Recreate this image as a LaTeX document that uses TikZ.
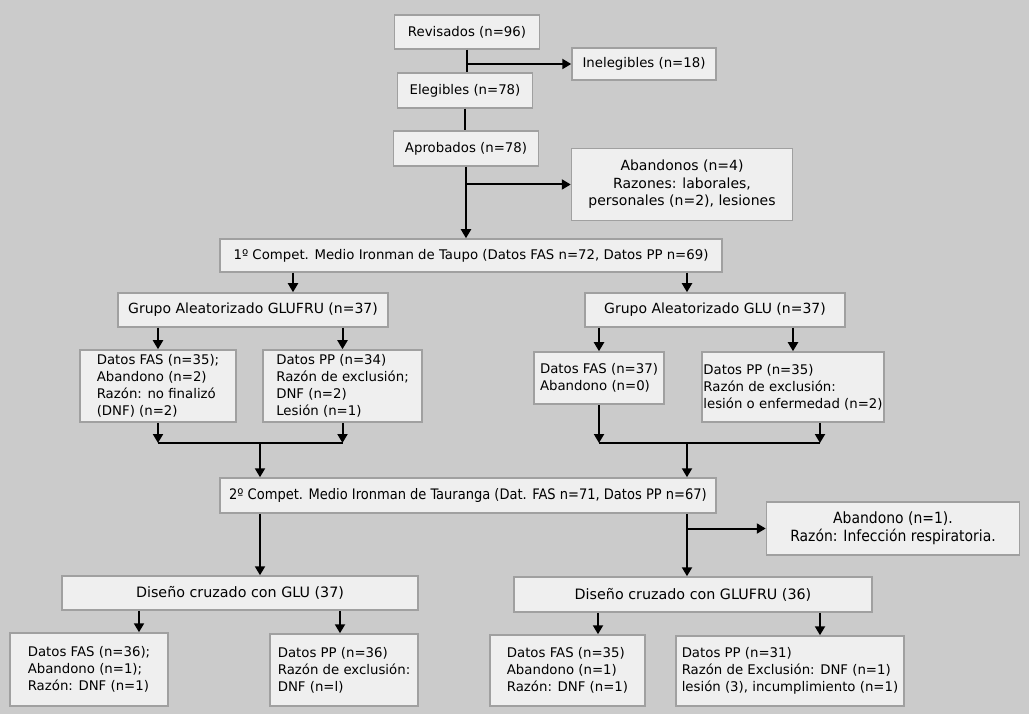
\documentclass[tikz,border=0pt]{standalone}
\usepackage{fontspec}
\setmainfont{DejaVu Sans}
\newfontfamily\condfont{DejaVu Sans Condensed}
\usetikzlibrary{arrows.meta}
\definecolor{bg}{HTML}{CBCBCB}
\definecolor{boxfill}{HTML}{EFEFEF}
\definecolor{boxline}{HTML}{A0A0A0}
\tikzset{
  box/.style={draw=boxline, line width=1.5pt, fill=boxfill, inner sep=0pt,
    font=\fontsize{13.3}{17}\selectfont, align=left},
  bigbox/.style={box, font=\fontsize{14}{17.5}\selectfont},
  cbox/.style={box, align=center},
  condbox/.style={box, align=center, font=\condfont\fontsize{14.5}{18}\selectfont},
  link/.style={line width=2pt, black},
  arr/.style={link, -{Triangle[length=9pt,width=10pt]}},
}
\begin{document}
\begin{tikzpicture}[x=1pt,y=-1pt]
\fill[bg] (0,0) rectangle (1029,714);
\useasboundingbox (0,0) rectangle (1029,714);

% helper coordinates for connector positions
\coordinate (xa) at (293,0);
\coordinate (xb) at (687,0);
\coordinate (m1) at (260,443);
\coordinate (m2) at (687,443);
\coordinate (xc) at (820,0);
\coordinate (xd) at (139,0);
\coordinate (xe) at (340,0);
\coordinate (xf) at (598,0);

% nodes
\node[box, minimum width=145, minimum height=34] (rev) at (467,32) {Revisados (n=96)};
\node[box, minimum width=144, minimum height=32] (inel) at (644,64) {Inelegibles (n=18)};
\node[box, minimum width=135, minimum height=35] (eleg) at (465,90.5) {Elegibles (n=78)};
\node[box, minimum width=145, minimum height=35] (aprob) at (466,148.5) {Aprobados (n=78)};
\node[bigbox, align=center, minimum width=221, minimum height=72] (aband) at (682,184.5)
  {Abandonos (n=4)\\Razones: laborales,\\personales (n=2), lesiones};
\node[box, minimum width=502, minimum height=33] (p1) at (471,255.5)
  {1º Compet. Medio Ironman de Taupo (Datos FAS n=72, Datos PP n=69)};
\node[bigbox, minimum width=270, minimum height=34] (g1) at (253,310) {Grupo Aleatorizado GLUFRU (n=37)};
\node[bigbox, minimum width=260, minimum height=34] (g2) at (715,310) {Grupo Aleatorizado GLU (n=37)};
\node[box, minimum width=156, minimum height=72] (fas1) at (158,386)
  {Datos FAS (n=35);\\Abandono (n=2)\\Razón: no finalizó\\(DNF) (n=2)};
\node[box, minimum width=159, minimum height=72] (pp1) at (342.5,386)
  {Datos PP (n=34)\\Razón de exclusión;\\DNF (n=2)\\Lesión (n=1)};
\node[box, minimum width=130, minimum height=52] (fas2) at (599,378)
  {Datos FAS (n=37)\\Abandono (n=0)};
\node[box, minimum width=182, minimum height=70] (pp2) at (793,387)
  {Datos PP (n=35)\\Razón de exclusión:\\lesión o enfermedad (n=2)};
\node[condbox, minimum width=496, minimum height=35] (p2) at (468,495.5)
  {2º Compet. Medio Ironman de Tauranga (Dat. FAS n=71, Datos PP n=67)};
\node[condbox, font=\condfont\fontsize{15.5}{18}\selectfont, minimum width=253, minimum height=53] (ab2) at (893,528.5)
  {Abandono (n=1).\\Razón: Infección respiratoria.};
\node[bigbox, font=\fontsize{14.3}{17}\selectfont, minimum width=356, minimum height=34] (d1) at (240,593) {Diseño cruzado con GLU (37)};
\node[bigbox, font=\fontsize{14.3}{17}\selectfont, minimum width=358, minimum height=35] (d2) at (693,594.5) {Diseño cruzado con GLUFRU (36)};
\node[box, minimum width=158, minimum height=73] (fas3) at (89,669.5)
  {Datos FAS (n=36);\\Abandono (n=1);\\Razón: DNF (n=1)};
\node[box, minimum width=148, minimum height=72] (pp3) at (344,670)
  {Datos PP (n=36)\\Razón de exclusión:\\DNF (n=l)};
\node[box, minimum width=155, minimum height=71] (fas4) at (567.5,670.5)
  {Datos FAS (n=35)\\Abandono (n=1)\\Razón: DNF (n=1)};
\node[box, minimum width=228, minimum height=70] (pp4) at (790,671)
  {Datos PP (n=31)\\Razón de Exclusión: DNF (n=1)\\lesión (3), incumplimiento (n=1)};

% trunk
\draw[link] (rev.south) -- (rev.south |- eleg.north);
\draw[link] (eleg.south) -- (eleg.south |- aprob.north);
\draw[arr] (aprob.south) -- (aprob.south |- p1.north);
\draw[arr] (rev.south |- inel.west) -- (inel.west);
\draw[arr] (aprob.south |- aband.west) -- (aband.west);

% first race to groups
\draw[arr] (p1.south -| xa) -- (g1.north -| xa);
\draw[arr] (p1.south -| xb) -- (g2.north -| xb);

% groups to data boxes
\draw[arr] (g1.south -| fas1.north) -- (fas1.north);
\draw[arr] (g1.south -| pp1.north) -- (pp1.north);
\draw[arr] (g2.south -| fas2.north) -- (fas2.north);
\draw[arr] (g2.south -| pp2.north) -- (pp2.north);

% merges
\draw[arr] (fas1.south) -- (fas1.south |- m1);
\draw[arr] (pp1.south) -- (pp1.south |- m1);
\draw[link] (fas1.south |- m1) -- (pp1.south |- m1);
\draw[arr] (m1) -- (m1 |- p2.north);
\draw[arr] (fas2.south) -- (fas2.south |- m2);
\draw[arr] (pp2.south -| xc) -- (m2 -| xc);
\draw[link] (fas2.south |- m2) -- (m2 -| xc);
\draw[arr] (m2) -- (m2 |- p2.north);

% second race
\draw[arr] (p2.south -| m1) -- (d1.north -| m1);
\draw[arr] (p2.south -| m2) -- (d2.north -| m2);
\draw[arr] (ab2.west -| m2) -- (ab2.west);

% crossover designs
\draw[arr] (d1.south -| xd) -- (fas3.north -| xd);
\draw[arr] (d1.south -| xe) -- (pp3.north -| xe);
\draw[arr] (d2.south -| xf) -- (fas4.north -| xf);
\draw[arr] (d2.south -| xc) -- (pp4.north -| xc);
\end{tikzpicture}
\end{document}
